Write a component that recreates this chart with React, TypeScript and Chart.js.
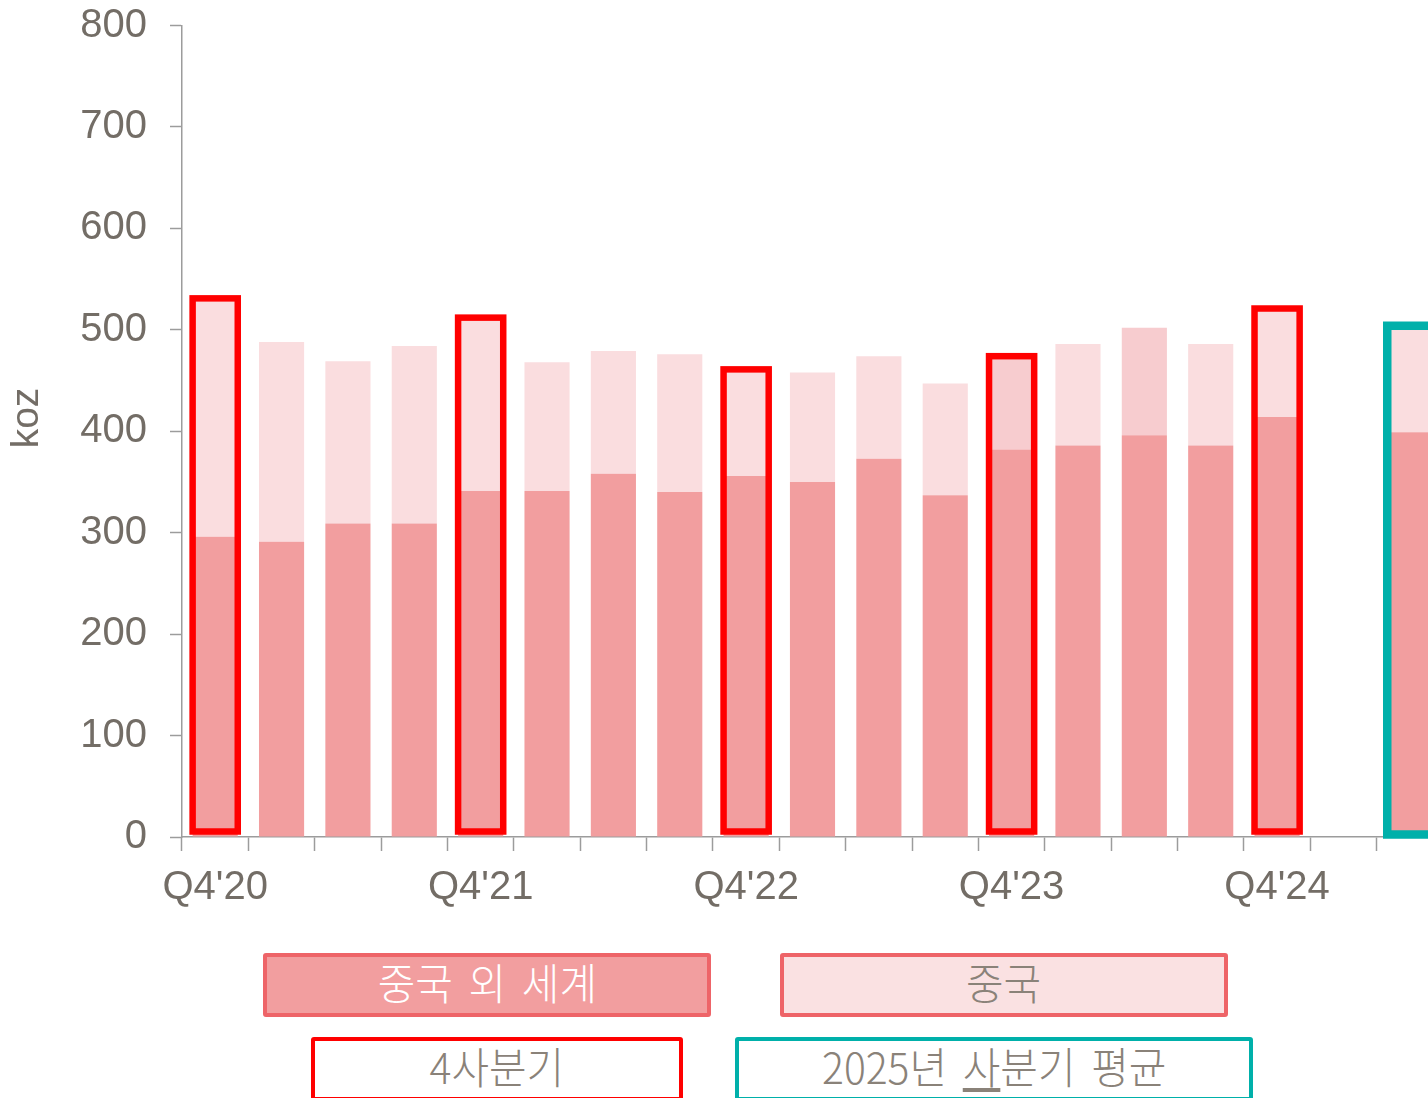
import React, { useEffect, useRef } from "react";
import { Chart, registerables } from "chart.js";

Chart.register(...registerables);

// ---- data ----
const categories = [
  "Q4'20", "Q1'21", "Q2'21", "Q3'21", "Q4'21", "Q1'22", "Q2'22", "Q3'22",
  "Q4'22", "Q1'23", "Q2'23", "Q3'23", "Q4'23", "Q1'24", "Q2'24", "Q3'24",
  "Q4'24", "", "2025 평균",
];
const restOfWorld = [296, 291, 309, 309, 341, 341, 358, 340, 356, 350, 373, 337, 382, 386, 396, 386, 414, null, 399];
const china = [235, 197, 160, 175, 171, 127, 121, 136, 105, 108, 101, 110, 92, 100, 106, 100, 107, null, 105];
const darkerChinaCats = ["Q4'23", "Q2'24"];
const q4Cats = ["Q4'20", "Q4'21", "Q4'22", "Q4'23", "Q4'24"];
const avgCats = ["2025 평균"];
const yTicks = [0, 100, 200, 300, 400, 500, 600, 700, 800];
const seriesNames = ["중국 외 세계", "중국"];
const yTitle = "koz";

// ---- styles ----
const AXIS_FONT = "'Liberation Sans', Arial, sans-serif";
const AXIS_COLOR = "#736D66";
const LINE_COLOR = "#9C9C9C";
const ROW_COLOR = "#F29E9F";
const CHINA_COLOR = "#FADDDF";
const CHINA_DARK = "#F7CCCF";
const Q4_COLOR = "#FF0000";
const AVG_COLOR = "#00B0AA";
const CANVAS_W = 1443;
const CANVAS_H = 940;
const AXIS_LEFT = 182;
const PLOT_TOP = 25.5;
const PLOT_BOTTOM = 837;

const outlinePlugin = {
  id: "outlines",
  afterDatasetsDraw(chart: any) {
    const ctx = chart.ctx;
    const top = chart.getDatasetMeta(1);
    const bottom = chart.getDatasetMeta(0);
    categories.forEach((c, i) => {
      let color: string | null = null;
      let lw = 6.5;
      let inset = 5;
      if (q4Cats.includes(c)) color = Q4_COLOR;
      if (avgCats.includes(c)) { color = AVG_COLOR; lw = 8.5; inset = 2; }
      if (!color) return;
      const t = top.data[i];
      const b = bottom.data[i];
      if (!t || !b) return;
      const w = t.width;
      const y0 = t.y;
      const y1 = b.base - inset;
      ctx.save();
      ctx.strokeStyle = color;
      ctx.lineWidth = lw;
      ctx.lineJoin = "miter";
      ctx.strokeRect(t.x - w / 2, y0, w, y1 - y0);
      ctx.restore();
    });
  },
};

const titlePlugin = {
  id: "ytitle",
  afterDraw(chart: any) {
    const ctx = chart.ctx;
    ctx.save();
    ctx.translate(27, 418);
    ctx.rotate(-Math.PI / 2);
    ctx.font = `39px ${AXIS_FONT}`;
    ctx.fillStyle = AXIS_COLOR;
    ctx.textAlign = "center";
    ctx.textBaseline = "middle";
    ctx.fillText(yTitle, 0, 0);
    ctx.restore();
  },
};

function ChartCanvas() {
  const ref = useRef<HTMLCanvasElement | null>(null);
  useEffect(() => {
    if (!ref.current) return;
    const chinaColors = categories.map((c) => (darkerChinaCats.includes(c) ? CHINA_DARK : CHINA_COLOR));
    const chart = new Chart(ref.current, {
      type: "bar",
      data: {
        labels: categories,
        datasets: [
          {
            label: seriesNames[0],
            data: restOfWorld,
            backgroundColor: ROW_COLOR,
            borderWidth: 0,
            barPercentage: 0.68,
            categoryPercentage: 1,
          },
          {
            label: seriesNames[1],
            data: china,
            backgroundColor: chinaColors,
            borderWidth: 0,
            barPercentage: 0.68,
            categoryPercentage: 1,
          },
        ],
      },
      options: {
        animation: false,
        responsive: false,
        maintainAspectRatio: false,
        devicePixelRatio: 1,
        layout: { padding: { top: PLOT_TOP, left: 0, right: 0, bottom: 0 } },
        plugins: {
          legend: { display: false },
          tooltip: { enabled: false },
          title: { display: false },
        },
        scales: {
          x: {
            stacked: true,
            offset: true,
            grid: {
              offset: true,
              drawOnChartArea: false,
              drawTicks: true,
              tickLength: 14,
              tickColor: LINE_COLOR,
              tickWidth: 1.5,
            },
            border: { display: true, color: LINE_COLOR, width: 1.5 },
            ticks: {
              autoSkip: false,
              maxRotation: 0,
              minRotation: 0,
              padding: 13,
              color: AXIS_COLOR,
              font: { family: AXIS_FONT, size: 40 },
              callback: (_v: any, i: number) => (q4Cats.includes(categories[i]) ? categories[i] : ""),
            },
            afterFit: (s: any) => {
              s.height = CANVAS_H - PLOT_BOTTOM;
              s.paddingLeft = 0;
              s.paddingRight = 0;
            },
          },
          y: {
            stacked: true,
            min: 0,
            max: 800,
            afterBuildTicks: (s: any) => {
              s.ticks = yTicks.map((v) => ({ value: v }));
            },
            grid: {
              drawOnChartArea: false,
              drawTicks: true,
              tickLength: 12,
              tickColor: LINE_COLOR,
              tickWidth: 1.5,
            },
            border: { display: true, color: LINE_COLOR, width: 1.5 },
            ticks: {
              padding: 23,
              color: AXIS_COLOR,
              font: { family: AXIS_FONT, size: 40 },
            },
            afterFit: (s: any) => {
              s.width = AXIS_LEFT;
              s.paddingTop = 0;
              s.paddingBottom = 0;
            },
          },
        },
      },
      plugins: [outlinePlugin, titlePlugin],
    });
    return () => chart.destroy();
  }, []);
  return (
    <canvas
      ref={ref}
      width={CANVAS_W}
      height={CANVAS_H}
      style={{ position: "absolute", left: 0, top: 0, width: CANVAS_W, height: CANVAS_H, display: "block" }}
    />
  );
}

const LEGEND_FONT = "'Noto Sans CJK KR', 'Noto Sans', sans-serif";

function LegendBox(props: {
  left: number; top: number; width: number; bg: string; border: string; color: string; children: any;
}) {
  return (
    <div
      style={{
        position: "absolute",
        left: props.left,
        top: props.top,
        width: props.width,
        height: 64,
        boxSizing: "border-box",
        border: `4px solid ${props.border}`,
        borderRadius: 3,
        background: props.bg,
        display: "flex",
        alignItems: "center",
        justifyContent: "center",
        overflow: "hidden",
      }}
    >
      <span
        style={{
          display: "inline-block",
          position: "relative",
          top: -4,
          fontFamily: LEGEND_FONT,
          fontWeight: 300,
          fontSize: 43,
          lineHeight: "50px",
          color: props.color,
          transform: "scaleX(0.95)",
          wordSpacing: 7,
          whiteSpace: "nowrap",
        }}
      >
        {props.children}
      </span>
    </div>
  );
}

export default function App() {
  return (
    <div
      style={{
        position: "fixed",
        left: 0,
        top: 0,
        width: 1428,
        height: 1098,
        overflow: "hidden",
        background: "#FFFFFF",
      }}
    >
      <ChartCanvas />
      <LegendBox left={263} top={953} width={448} bg={ROW_COLOR} border="#EE6468" color="#FFFFFF">
        {seriesNames[0]}
      </LegendBox>
      <LegendBox left={780} top={953} width={448} bg="#FAE1E2" border="#EE6468" color="#8A8279">
        {seriesNames[1]}
      </LegendBox>
      <LegendBox left={311} top={1037} width={372} bg="#FFFFFF" border={Q4_COLOR} color="#8A8279">
        4사분기
      </LegendBox>
      <LegendBox left={735} top={1037} width={518} bg="#FFFFFF" border={AVG_COLOR} color="#8A8279">
        2025년 <span style={{ textDecoration: "underline", textUnderlineOffset: 4 }}>사</span>분기 평균
      </LegendBox>
    </div>
  );
}
